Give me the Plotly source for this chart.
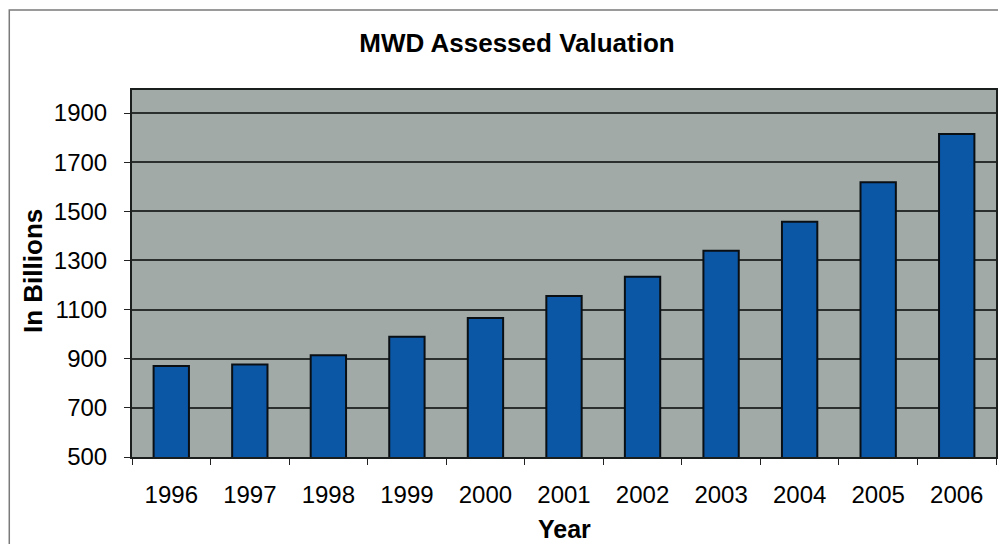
import plotly.graph_objects as go

years = ["1996", "1997", "1998", "1999", "2000", "2001", "2002", "2003", "2004", "2005", "2006"]
values = [870, 877, 914, 990, 1066, 1155, 1234, 1340, 1458, 1618, 1815]
y_ticks = [500, 700, 900, 1100, 1300, 1500, 1700, 1900]

# page body has an 8px margin; compensate so the plot lands where the reference has it
OFF = 8
W, H = 990, 536
L, T = 132 - OFF, 90 - OFF
pw, ph = 1000 - 132 - 2, 457 - 90
R = W - L - pw
B = H - T - ph

fig = go.Figure()
fig.add_trace(go.Bar(
    x=years, y=values,
    marker=dict(color="#0b56a5", line=dict(color="#0a0f14", width=2)),
    width=0.45,
))

font_family = "Liberation Sans, Arial, sans-serif"

fig.update_layout(
    width=W, height=H,
    margin=dict(l=L, r=R, t=T, b=B),
    paper_bgcolor="white",
    plot_bgcolor="#a2aaa7",
    showlegend=False,
    font=dict(family=font_family, color="black"),
    xaxis=dict(
        type="category",
        tickson="boundaries",
        ticks="outside", ticklen=6, tickcolor="#222", tickwidth=1,
        tickfont=dict(size=24, family=font_family, color="black"),
        ticklabelstandoff=15,
        showline=True, linecolor="#1a1f1d", linewidth=2, mirror=True,
        showgrid=False,
    ),
    yaxis=dict(
        range=[500, 1994],
        tickvals=y_ticks,
        ticks="outside", ticklen=6, tickcolor="#222", tickwidth=1,
        tickfont=dict(size=24, family=font_family, color="black"),
        ticklabelstandoff=12,
        showline=True, linecolor="#1a1f1d", linewidth=2, mirror=True,
        showgrid=True, gridcolor="#2b302e", gridwidth=1.5,
        zeroline=False,
    ),
    title=dict(
        text="<b>MWD Assessed Valuation</b>",
        x=(517 - OFF) / W, xanchor="center",
        y=1 - (43 - OFF) / H, yanchor="middle",
        font=dict(size=26, family=font_family, color="black"),
    ),
)

fig.add_annotation(
    text="<b>Year</b>", xref="paper", yref="paper",
    x=0.5, y=0, xanchor="center", yanchor="middle",
    yshift=-(529 - 457), showarrow=False, borderpad=0,
    font=dict(size=25, family=font_family, color="black"),
)
fig.add_annotation(
    text="<b>In Billions</b>", xref="paper", yref="paper",
    x=0, y=(457 - 271) / ph, xanchor="center", yanchor="middle",
    xshift=-(132 - 33), textangle=-90, showarrow=False,
    font=dict(size=26, family=font_family, color="black"),
)

# outer chart frame (top and left edges visible)
fig.add_shape(
    type="rect", xref="paper", yref="paper",
    x0=(9 - 132) / pw, x1=(1020 - 132) / pw,
    y0=-(570 - 457) / ph, y1=(457 - 10) / ph,
    line=dict(color="#7a7a7a", width=1.5), fillcolor="rgba(0,0,0,0)",
    layer="below",
)

fig.write_html("out.html")
